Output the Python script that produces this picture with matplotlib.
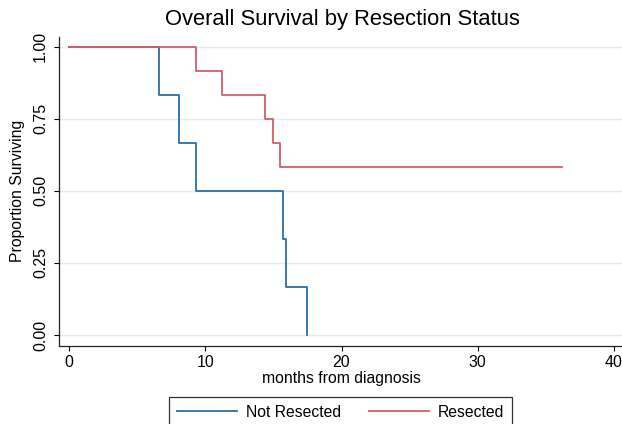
import matplotlib
matplotlib.use("Agg")
import matplotlib.pyplot as plt
from matplotlib.lines import Line2D

plt.rcParams['font.family'] = ['Liberation Sans', 'DejaVu Sans']

# Kaplan-Meier step data
not_resected_t = [0, 6.6, 8.1, 9.3, 15.7, 15.9, 17.5]
not_resected_s = [1.0, 0.833, 0.667, 0.5, 0.333, 0.167, 0.0]
resected_t = [0, 9.3, 11.2, 14.4, 15.0, 15.5, 36.2]
resected_s = [1.0, 0.917, 0.833, 0.75, 0.667, 0.583, 0.583]

x_ticks = [0, 10, 20, 30, 40]
y_ticks = [0.0, 0.25, 0.5, 0.75, 1.0]
y_ticklabels = ["0.00", "0.25", "0.50", "0.75", "1.00"]
series_labels = ["Not Resected", "Resected"]
title = "Overall Survival by Resection Status"
xlabel = "months from diagnosis"
ylabel = "Proportion Surviving"

W, H = 622, 424
fig = plt.figure(figsize=(W / 100, H / 100), dpi=100)
ax = fig.add_axes([59 / W, 1 - 346 / H, (622 - 59) / W, (346 - 36.7) / H])

blue = '#2b6ea3'
red = '#d45d68'
ax.step(not_resected_t, not_resected_s, where='post', color=blue, lw=1.3)
ax.step(resected_t, resected_s, where='post', color=red, lw=1.3)

ax.set_xlim(-0.734, 40.587)
ax.set_ylim(-0.0382, 1.0347)
ax.set_xticks(x_ticks)
ax.set_yticks(y_ticks)
ax.set_yticklabels(y_ticklabels, rotation=90, va='center')
ax.tick_params(direction='out', length=3.8, width=0.8, labelsize=11.5, colors='black', pad=4)
ax.tick_params(axis='x', pad=2.5)
ax.grid(axis='y', color='#e0edf1', lw=1.0)
ax.set_axisbelow(True)
for s in ['top', 'right']:
    ax.spines[s].set_visible(False)
for s in ['left', 'bottom']:
    ax.spines[s].set_linewidth(0.9)
    ax.spines[s].set_color('#222222')

fig.text(342 / W, 1 - 20 / H, title, ha='center', va='center', fontsize=15.8)
fig.text(341 / W, 1 - 379 / H, xlabel, ha='center', va='center', fontsize=11.3)
fig.text(18 / W, 1 - 191 / H, ylabel, ha='center', va='center', rotation=90, fontsize=11.3)

handles = [Line2D([], [], color=blue, lw=1.3), Line2D([], [], color=red, lw=1.3)]
leg = fig.legend(handles, series_labels, loc='upper center',
                 bbox_to_anchor=(340.7 / W, 1 - 396.7 / H), ncol=2,
                 frameon=True, fancybox=False, edgecolor='black',
                 fontsize=11.3, borderpad=0.5, handlelength=3.8,
                 handletextpad=0.57, columnspacing=1.8, borderaxespad=0)
leg.get_frame().set_linewidth(0.9)

fig.savefig('out.png', dpi=100)
